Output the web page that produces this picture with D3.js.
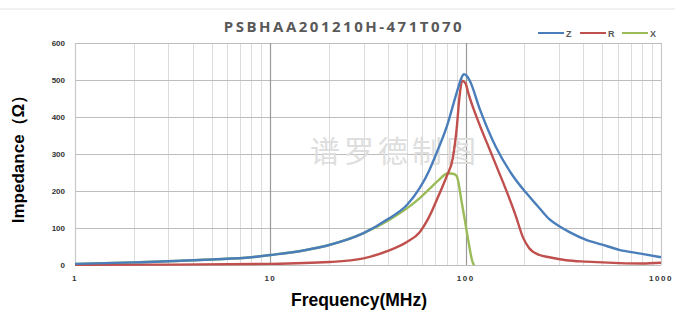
<!DOCTYPE html>
<html>
<head>
<meta charset="utf-8">
<script src="https://cdn.jsdelivr.net/npm/d3@7/dist/d3.min.js"></script>
<style>
  html, body { margin: 0; padding: 0; background: #fff; }
  svg { display: block; font-family: "Liberation Sans", Arial, sans-serif; }
</style>
</head>
<body>
<div id="chart"></div>
<script>
// impedance curve (MHz, ohm)
const zFreq = [1, 2, 3, 5, 8, 10, 15, 20, 30, 40, 50, 58, 65, 71, 80, 90, 95, 98, 101, 105, 118, 143, 175, 204, 240, 268, 303, 340, 414, 500, 611, 800, 1000];
const zVals = [3, 7, 10, 15, 21, 27, 40, 54, 86, 124, 162, 207, 255, 303, 374, 466, 505, 516, 512, 498, 422, 318, 240, 195, 152, 124, 104, 89, 68, 55, 41, 30, 21];

const rFreq = [1, 3, 10, 20, 30, 40, 50, 58, 65, 73, 80, 86, 90, 93, 96, 100, 103, 118, 133, 143, 161, 181, 196, 211, 239, 268, 327, 414, 611, 800, 1000];
const rVals = [0.5, 1, 3, 8, 18, 38, 62, 88, 130, 190, 240, 290, 370, 455, 498, 490, 466, 378, 311, 270, 203, 131, 76, 46, 27, 21, 13, 9, 5, 4, 6];

const xFreq = [1, 2, 5, 8, 10, 15, 20, 30, 40, 50, 58, 65, 73, 81, 87, 90, 92, 95, 99, 103, 109, 111];
const xVals = [3, 7, 15, 21, 27, 40, 54, 86, 120, 153, 180, 205, 230, 248, 246, 240, 221, 176, 122, 68, 5, 0];

const seriesNames = ["Z", "R", "X"];
const seriesColors = ["#4a7ebb", "#c0504d", "#9bbb59"];
const yTicks = [0, 100, 200, 300, 400, 500, 600];
const xTicks = [1, 10, 100, 1000];

const W = 675, H = 310;
const plotL = 75, plotR = 661, plotT = 43, plotB = 265;

const svg = d3.select('#chart').append('svg')
  .attr('width', W)
  .attr('height', H);

const x = d3.scaleLog().domain([1, 1000]).range([plotL, plotR]);
const y = d3.scaleLinear().domain([0, 600]).range([plotB, plotT]);

// faint rule at the very top
svg.append('line')
  .attr('x1', 0).attr('x2', W).attr('y1', 9).attr('y2', 9)
  .attr('stroke', '#e4e4e4').attr('stroke-width', 1);

// minor vertical grid
const minor = [];
for (let d = 1; d < 1000; d *= 10) {
  for (let k = 2; k <= 9; k++) minor.push(d * k);
}
svg.append('g').selectAll('line')
  .data(minor)
  .enter().append('line')
  .attr('x1', d => Math.round(x(d)) + 0.5).attr('x2', d => Math.round(x(d)) + 0.5)
  .attr('y1', plotT).attr('y2', plotB)
  .attr('stroke', '#dcdcdc').attr('stroke-width', 1);

// horizontal grid
svg.append('g').selectAll('line')
  .data(yTicks)
  .enter().append('line')
  .attr('x1', plotL).attr('x2', plotR)
  .attr('y1', d => Math.round(y(d)) + 0.5).attr('y2', d => Math.round(y(d)) + 0.5)
  .attr('stroke', '#bdbdbd').attr('stroke-width', 1.2);

// major vertical grid
svg.append('g').selectAll('line')
  .data(xTicks)
  .enter().append('line')
  .attr('x1', d => Math.round(x(d)) + 0.5).attr('x2', d => Math.round(x(d)) + 0.5)
  .attr('y1', plotT).attr('y2', plotB)
  .attr('stroke', d => (d === 1 || d === 1000) ? '#c8c8c8' : '#999').attr('stroke-width', 1.2);

// watermark
svg.append('text')
  .attr('x', 395).attr('y', 162)
  .attr('text-anchor', 'middle')
  .style('font-family', '"Noto Sans CJK SC", sans-serif')
  .style('font-size', '30px')
  .style('letter-spacing', '4px')
  .attr('fill', '#dedede')
  .text('谱罗德制图');

// tick labels
svg.append('g').selectAll('text')
  .data(yTicks)
  .enter().append('text')
  .attr('x', 65).attr('y', d => y(d) + 3)
  .attr('text-anchor', 'end')
  .style('font-size', '8px').style('font-weight', 'bold')
  .attr('fill', '#333')
  .text(d => d);

svg.append('g').selectAll('text')
  .data(xTicks)
  .enter().append('text')
  .attr('x', d => x(d)).attr('y', 281)
  .attr('text-anchor', 'middle')
  .style('font-size', '8px').style('font-weight', 'bold')
  .style('letter-spacing', '1.5px')
  .attr('fill', '#333')
  .text(d => d);

// curves
const line = d3.line()
  .x(d => x(d[0]))
  .y(d => y(d[1]))
  .curve(d3.curveMonotoneX);

const series = [
  d3.zip(zFreq, zVals),
  d3.zip(rFreq, rVals),
  d3.zip(xFreq, xVals)
];

// X below, then R, then Z on top
[2, 1, 0].forEach(i => {
  svg.append('path')
    .datum(series[i])
    .attr('d', line)
    .attr('fill', 'none')
    .attr('stroke', seriesColors[i])
    .attr('stroke-width', 2.4)
    .attr('stroke-linejoin', 'round');
});

// title
svg.append('text')
  .attr('x', 344).attr('y', 32)
  .attr('text-anchor', 'middle')
  .style('font-family', '"Open Sans", sans-serif')
  .style('font-size', '15px').style('font-weight', 'bold')
  .style('letter-spacing', '2.5px')
  .attr('fill', '#595959')
  .text('PSBHAA201210H-471T070');

// legend
const legendX = [538, 580, 622];
const lg = svg.append('g').selectAll('g')
  .data(seriesNames)
  .enter().append('g')
  .attr('transform', (d, i) => 'translate(' + legendX[i] + ',33)');
lg.append('line')
  .attr('x1', 0).attr('x2', 26).attr('y1', 0).attr('y2', 0)
  .attr('stroke', (d, i) => seriesColors[i]).attr('stroke-width', 2);
lg.append('text')
  .attr('x', 28).attr('y', 3.5)
  .style('font-size', '9px').style('font-weight', 'bold')
  .attr('fill', '#595959')
  .text(d => d);

// axis titles
svg.append('text')
  .attr('x', 359).attr('y', 306)
  .attr('text-anchor', 'middle')
  .style('font-size', '17.5px').style('font-weight', 'bold')
  .attr('fill', '#000')
  .text('Frequency(MHz)');

svg.append('text')
  .attr('transform', 'translate(24,155) rotate(-90)')
  .attr('text-anchor', 'middle')
  .style('font-size', '17px').style('font-weight', 'bold')
  .attr('fill', '#000')
  .text('Impedance（Ω）');
</script>
</body>
</html>
